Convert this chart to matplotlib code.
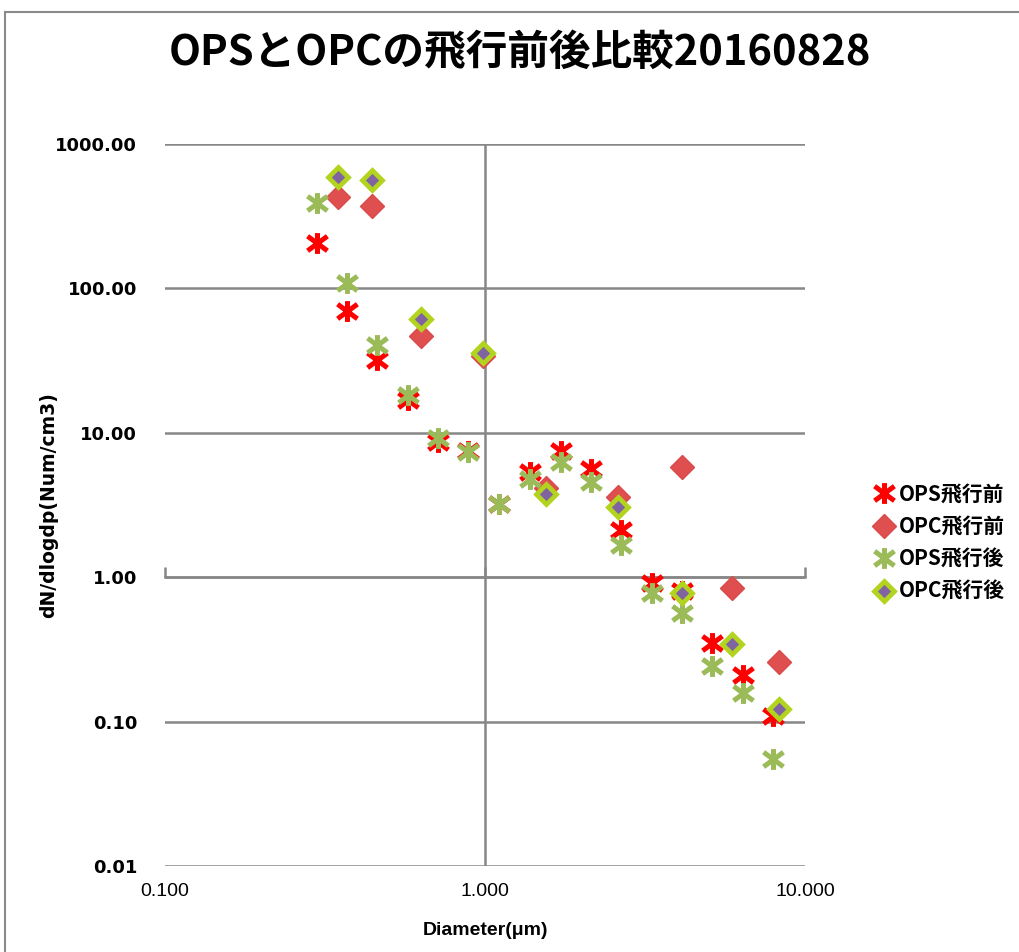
import numpy as np
import matplotlib
matplotlib.use('Agg')
import matplotlib.pyplot as plt
from matplotlib.path import Path
from matplotlib.patches import Rectangle
from matplotlib.ticker import FuncFormatter, NullLocator

# OPS before flight (red asterisk)
ops_pre_d = [0.299, 0.371, 0.460, 0.574, 0.713, 0.885, 1.106, 1.382, 1.728, 2.14, 2.66, 3.32, 4.13, 5.12, 6.40, 7.94]
ops_pre_n = [206, 69.7, 31.9, 16.9, 8.6, 7.5, 3.2, 5.35, 7.5, 5.6, 2.12, 0.91, 0.80, 0.35, 0.21, 0.109]

# OPC before flight (red diamond)
opc_pre_d = [0.347, 0.443, 0.631, 0.986, 1.55, 2.60, 4.13, 5.90, 8.30]
opc_pre_n = [430, 372, 46.8, 34.0, 4.15, 3.6, 5.8, 0.84, 0.259]

# OPS after flight (green asterisk)
ops_post_d = [0.299, 0.371, 0.460, 0.574, 0.713, 0.885, 1.106, 1.382, 1.728, 2.14, 2.66, 3.32, 4.13, 5.12, 6.40, 7.94]
ops_post_n = [390, 109, 40.5, 18.3, 9.2, 7.4, 3.2, 4.8, 6.3, 4.6, 1.67, 0.78, 0.565, 0.243, 0.158, 0.055]

# OPC after flight (lime diamond)
opc_post_d = [0.347, 0.443, 0.631, 0.986, 1.55, 2.60, 4.13, 5.90, 8.30]
opc_post_n = [590, 563, 61.0, 36.0, 3.77, 3.06, 0.78, 0.345, 0.122]

labels = ['OPS飛行前', 'OPC飛行前', 'OPS飛行後', 'OPC飛行後']
y_ticks = [0.01, 0.1, 1, 10, 100, 1000]
x_ticks = [0.1, 1, 10]

jp = ['Noto Sans CJK JP', 'DejaVu Sans']
plt.rcParams['font.family'] = ['Liberation Sans', 'Noto Sans CJK JP', 'DejaVu Sans']

# asterisk marker: vertical bar plus an X
star = Path([(0, -1), (0, 1), (-0.95, -0.7), (0.95, 0.7), (-0.95, 0.7), (0.95, -0.7)],
            [Path.MOVETO, Path.LINETO, Path.MOVETO, Path.LINETO, Path.MOVETO, Path.LINETO])

grid_c = '#878787'

fig = plt.figure(figsize=(10.2, 9.52), dpi=100)
fig.patches.append(Rectangle((0.005, -0.1), 1.2, 1.1 - 12 / 952, transform=fig.transFigure,
                             fill=False, ec='#8a8a8a', lw=1.5))

ax = fig.add_axes([0.1618, 0.0903, 0.6275, 0.7584])
ax.set_xscale('log')
ax.set_yscale('log')

ax.plot(ops_pre_d, ops_pre_n, ls='none', marker=star, ms=15, mew=3.6, color='#ff0000', label=labels[0], zorder=3)
ax.plot(opc_pre_d, opc_pre_n, ls='none', marker='D', ms=12, mfc='#e04f4f', mec='#d94a4a', mew=1, label=labels[1], zorder=3)
ax.plot(ops_post_d, ops_post_n, ls='none', marker=star, ms=15, mew=3.6, color='#9bbb59', label=labels[2], zorder=3)
ax.plot(opc_post_d, opc_post_n, ls='none', marker='D', ms=10, mfc='#8064a2', mec='#b2d41e', mew=3.4, label=labels[3], zorder=3)

ax.set_xlim(0.1, 10)
ax.set_ylim(0.01, 1000)

ax.set_yticks(y_ticks)
ax.yaxis.set_minor_locator(NullLocator())
ax.yaxis.set_major_formatter(FuncFormatter(lambda v, p: '%.2f' % v))
ax.tick_params(axis='y', length=0, pad=20, labelsize=13)
for t in ax.get_yticklabels():
    t.set_fontweight('bold')
    t.set_family('DejaVu Sans')
ax.yaxis.grid(True, color=grid_c, lw=1.8)
ax.set_axisbelow(True)
ax.axvline(1, color=grid_c, lw=1.8, zorder=1)

for s in ['left', 'right', 'top']:
    ax.spines[s].set_visible(False)
ax.spines['bottom'].set_position(('data', 1))
ax.spines['bottom'].set_color(grid_c)
ax.spines['bottom'].set_linewidth(1.8)
ax.set_xticks(x_ticks)
ax.xaxis.set_minor_locator(NullLocator())
ax.tick_params(axis='x', direction='in', length=7, width=1.8, color=grid_c, labelbottom=False)

sec = ax.secondary_xaxis(0)
sec.set_xticks(x_ticks)
sec.xaxis.set_minor_locator(NullLocator())
sec.xaxis.set_major_formatter(FuncFormatter(lambda v, p: '%.3f' % v))
sec.tick_params(length=0, pad=12, labelsize=14)
sec.spines['bottom'].set_visible(False)
sec.set_xlabel('Diameter(μm)', fontsize=14, fontweight='bold', labelpad=16)

ax.set_ylabel('dN/dlogdp(Num/cm3)', fontsize=13.5, fontweight='bold', labelpad=-2,
              family='DejaVu Sans')

fig.suptitle('OPSとOPCの飛行前後比較20160828', x=0.51, y=0.967, fontsize=30,
             fontweight='bold', family=jp)

ax.legend(loc='center left', bbox_to_anchor=(0.838, 0.43), bbox_transform=fig.transFigure,
          frameon=False, prop={'family': jp, 'size': 15, 'weight': 'bold'}, handletextpad=0.2,
          handlelength=1.0, labelspacing=0.55)

fig.savefig('out.png', dpi=100)
